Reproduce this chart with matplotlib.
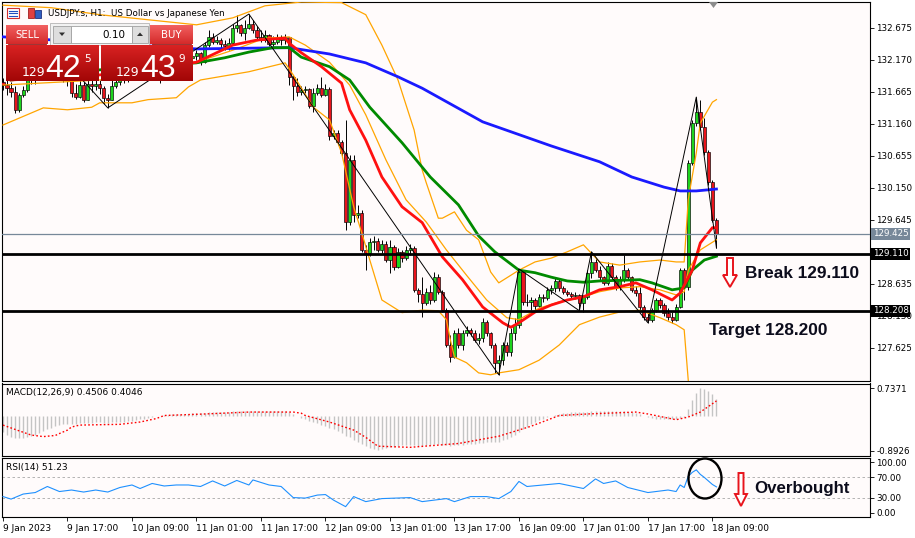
import numpy as np
import matplotlib
matplotlib.use("Agg")
import matplotlib.pyplot as plt
from matplotlib.patches import Rectangle, Polygon, Ellipse
from matplotlib.transforms import blended_transform_factory

plt.rcParams['font.family'] = ['DejaVu Sans']

# ---------------- data: USDJPY H1 candles ----------------
open0 = 131.819
close = [131.771, 131.724, 131.661, 131.377, 131.614, 131.692, 131.850, 131.913, 131.882, 131.976,
         132.008, 132.039, 131.976, 132.008, 131.945, 131.913, 131.850, 131.645, 131.582, 131.771,
         131.535, 131.787, 131.756, 131.787, 131.724, 131.566, 131.535, 131.756, 131.819, 131.882,
         131.913, 131.945, 131.976, 132.008, 131.976, 132.039, 132.008, 132.071, 132.039, 132.071,
         132.134, 132.166, 132.134, 132.197, 132.166, 132.229, 132.197, 132.229, 132.276, 132.134,
         132.402, 132.528, 132.450, 132.481, 132.418, 132.386, 132.434, 132.670, 132.718, 132.592,
         132.670, 132.733, 132.639, 132.528, 132.481, 132.560, 132.418, 132.450, 132.513, 132.481,
         132.528, 131.898, 131.756, 131.661, 131.692, 131.708, 131.440, 131.645, 131.724, 131.614,
         131.708, 130.967, 131.014, 130.872, 130.699, 129.610, 130.588, 129.721, 129.752, 129.169,
         129.121, 129.295, 129.311, 129.169, 129.263, 129.011, 129.216, 128.901, 129.137, 129.043,
         129.169, 129.200, 128.538, 128.475, 128.333, 128.506, 128.380, 128.743, 128.506, 128.222,
         127.670, 127.481, 127.860, 127.670, 127.860, 127.907, 127.860, 127.749, 127.781, 128.033,
         127.860, 127.670, 127.386, 127.434, 127.670, 127.560, 127.860, 127.986, 128.822, 128.349,
         128.349, 128.380, 128.285, 128.427, 128.412, 128.538, 128.569, 128.680, 128.569, 128.506,
         128.475, 128.443, 128.459, 128.333, 128.427, 128.806, 128.980, 128.853, 128.743, 128.648,
         128.916, 128.743, 128.585, 128.696, 128.853, 128.743, 128.538, 128.491, 128.270, 128.112,
         128.065, 128.222, 128.380, 128.301, 128.175, 128.112, 128.065, 128.270, 128.853, 128.585,
         130.541, 131.172, 131.345, 131.109, 130.715, 130.241, 129.642, 129.421]
high = [131.882, 131.850, 131.819, 131.756, 131.645, 131.756, 131.976, 132.039, 132.008, 132.087,
        132.134, 132.166, 132.103, 132.134, 132.071, 132.039, 131.976, 131.913, 131.787, 131.850,
        131.819, 131.882, 131.850, 131.882, 131.850, 131.756, 131.629, 131.850, 131.913, 132.008,
        132.039, 132.071, 132.103, 132.134, 132.103, 132.166, 132.134, 132.197, 132.166, 132.197,
        132.245, 132.292, 132.260, 132.323, 132.292, 132.355, 132.323, 132.323, 132.323, 132.292,
        132.450, 132.639, 132.592, 132.544, 132.513, 132.481, 132.513, 132.733, 132.875, 132.733,
        132.797, 132.891, 132.797, 132.702, 132.639, 132.639, 132.576, 132.544, 132.576, 132.560,
        132.576, 132.528, 131.929, 131.882, 131.756, 131.756, 131.724, 131.724, 131.787, 131.898,
        131.787, 131.740, 131.062, 131.062, 130.904, 131.219, 130.667, 130.667, 129.879, 129.800,
        129.248, 129.358, 129.390, 129.358, 129.327, 129.311, 129.327, 129.248, 129.200, 129.169,
        129.232, 129.263, 129.232, 128.569, 128.743, 128.569, 128.617, 128.822, 128.790, 128.538,
        128.254, 127.828, 127.907, 127.939, 127.907, 127.970, 127.939, 127.907, 127.860, 128.096,
        128.065, 127.875, 127.702, 127.513, 127.718, 127.718, 127.939, 128.096, 128.869, 128.853,
        128.475, 128.427, 128.412, 128.475, 128.475, 128.585, 128.617, 128.743, 128.711, 128.601,
        128.538, 128.506, 128.506, 128.475, 128.459, 128.853, 129.137, 129.043, 128.916, 128.759,
        128.980, 128.964, 128.774, 128.759, 129.090, 128.885, 128.759, 128.601, 128.585, 128.301,
        128.191, 128.254, 128.412, 128.412, 128.333, 128.254, 128.191, 128.317, 128.885, 128.885,
        130.588, 131.219, 131.582, 131.535, 131.251, 130.746, 130.273, 129.674]
low = [131.692, 131.614, 131.582, 131.330, 131.345, 131.582, 131.661, 131.787, 131.787, 131.850,
       131.913, 131.945, 131.882, 131.913, 131.850, 131.819, 131.756, 131.582, 131.551, 131.566,
       131.503, 131.535, 131.661, 131.692, 131.629, 131.472, 131.409, 131.535, 131.724, 131.771,
       131.803, 131.819, 131.850, 131.882, 131.850, 131.913, 131.850, 131.945, 131.913, 131.803,
       132.008, 132.039, 132.008, 132.071, 132.039, 132.103, 132.071, 132.134, 132.166, 132.087,
       132.118, 132.371, 132.418, 132.418, 132.355, 132.323, 132.323, 132.418, 132.607, 132.544,
       132.481, 132.655, 132.592, 132.481, 132.450, 132.450, 132.386, 132.355, 132.418, 132.402,
       132.418, 131.771, 131.535, 131.598, 131.614, 131.645, 131.409, 131.345, 131.614, 131.582,
       131.598, 130.904, 130.920, 130.825, 130.651, 129.484, 129.563, 129.610, 129.674, 129.137,
       128.853, 129.074, 129.169, 129.137, 129.121, 128.980, 128.806, 128.853, 128.885, 128.980,
       129.011, 129.090, 128.506, 128.349, 128.112, 128.301, 128.317, 128.349, 128.475, 128.191,
       127.639, 127.402, 127.465, 127.623, 127.591, 127.812, 127.812, 127.718, 127.686, 127.718,
       127.812, 127.623, 127.229, 127.197, 127.355, 127.497, 127.497, 127.749, 127.939, 128.301,
       128.285, 128.222, 128.222, 128.270, 128.349, 128.380, 128.475, 128.506, 128.522, 128.475,
       128.443, 128.412, 128.396, 128.207, 128.191, 128.396, 128.727, 128.822, 128.696, 128.617,
       128.617, 128.696, 128.538, 128.538, 128.664, 128.696, 128.506, 128.443, 128.222, 128.065,
       128.017, 128.033, 128.191, 128.254, 128.128, 128.065, 128.017, 128.049, 128.254, 128.380,
       128.538, 130.510, 131.125, 131.062, 130.667, 130.194, 129.610, 129.200]

# moving averages (bar index, price)
red_bars = [2, 24, 48, 57, 63, 70, 71, 74, 79, 84, 86, 90, 94, 99, 104, 109, 114, 119, 124, 126,
            128, 132, 136, 140, 144, 148, 153, 157, 161, 166, 168, 171, 173, 176, 177]
red_vals = [131.85, 131.93, 132.13, 132.40, 132.48, 132.51, 132.43, 132.28, 132.06, 131.80,
            131.38, 130.90, 130.32, 129.85, 129.60, 129.06, 128.70, 128.27, 128.02, 127.95,
            128.02, 128.19, 128.30, 128.38, 128.43, 128.54, 128.59, 128.65, 128.54, 128.38,
            128.49, 128.85, 129.28, 129.52, 129.52]
green_bars = [2, 24, 48, 55, 61, 67, 71, 74, 81, 86, 91, 99, 106, 113, 118, 122, 128, 132, 136, 140,
              144, 148, 158, 161, 166, 169, 171, 174, 177]
green_vals = [131.85, 132.01, 132.12, 132.20, 132.29, 132.36, 132.36, 132.21, 132.06, 131.85,
              131.42, 130.86, 130.32, 129.88, 129.39, 129.14, 128.85, 128.81, 128.74, 128.68,
              128.66, 128.68, 128.70, 128.65, 128.54, 128.57, 128.85, 129.01, 129.07]
blue_bars = [0, 48, 71, 81, 90, 98, 104, 119, 136, 148, 156, 164, 168, 172, 177]
blue_vals = [132.53, 132.34, 132.36, 132.26, 132.12, 131.90, 131.72, 131.19, 130.81, 130.56,
             130.32, 130.16, 130.10, 130.10, 130.13]

# bollinger bands
bb_up_bars = [0, 12, 24, 36, 48, 57, 65, 74, 84, 90, 94, 98, 102, 104, 105, 108, 109, 112, 115, 118,
              121, 123, 128, 132, 136, 140, 144, 148, 153, 158, 163, 167, 169, 170, 172, 173, 176, 177]
bb_up_vals = [133.03, 132.99, 132.88, 132.80, 132.72, 132.83, 133.02, 133.08, 133.07, 132.88,
              132.40, 131.85, 131.06, 130.43, 130.23, 129.67, 129.67, 129.77, 129.48, 129.33,
              128.82, 128.65, 128.85, 128.98, 129.04, 129.14, 129.25, 128.98, 128.93, 128.98,
              129.01, 128.98, 128.98, 129.96, 130.70, 131.17, 131.50, 131.54]
bb_mid_bars = [0, 24, 48, 57, 65, 71, 75, 81, 86, 90, 95, 100, 105, 110, 115, 120, 125, 128, 133, 138,
               143, 148, 153, 158, 163, 167, 169, 170, 173, 177]
bb_mid_vals = [131.77, 131.85, 132.13, 132.32, 132.51, 132.53, 132.40, 132.13, 131.77, 131.30,
               130.59, 129.96, 129.61, 129.17, 128.77, 128.38, 128.10, 128.07, 128.25, 128.35,
               128.41, 128.51, 128.57, 128.59, 128.54, 128.46, 128.51, 128.85, 129.17, 129.33]
bb_lo_bars = [0, 10, 16, 22, 24, 32, 36, 43, 46, 49, 61, 70, 72, 77, 81, 84, 87, 89, 91, 93,
              94, 99, 104, 108, 110, 111, 112, 115, 118, 121, 123, 128, 133, 138, 143, 148, 153, 158,
              163, 167, 169, 170, 171, 177]
bb_lo_vals = [131.14, 131.41, 131.38, 131.42, 131.49, 131.49, 131.54, 131.57, 131.74, 131.85,
              131.98, 132.12, 131.93, 131.42, 131.22, 130.70, 129.85, 129.44, 129.01, 128.59,
              128.38, 128.18, 128.22, 128.21, 128.07, 127.75, 127.48, 127.39, 127.23, 127.20,
              127.23, 127.28, 127.43, 127.67, 127.99, 128.11, 128.19, 128.22, 128.10, 127.99,
              127.91, 127.12, 126.49, 126.17]

# zigzag
zz_bars = [14, 26, 61, 123, 128, 143, 146, 160, 172, 177]
zz_vals = [132.25, 131.41, 132.89, 127.20, 128.87, 128.21, 129.14, 128.02, 131.58, 129.20]

# MACD(12,26,9): main (histogram, one per bar) and signal
macd_main = [-0.40, -0.50, -0.55,
             -0.57, -0.57, -0.56, -0.55, -0.52, -0.48,
             -0.43, -0.38, -0.34, -0.30, -0.26, -0.23,
             -0.21, -0.20, -0.19, -0.19, -0.18, -0.18, -0.17, -0.17, -0.16, -0.16, -0.17,
             -0.17, -0.16, -0.15, -0.15, -0.14, -0.13, -0.12, -0.10,
             -0.08, -0.06, -0.04, -0.02, 0.00, 0.02,
             0.03, 0.04, 0.05, 0.05, 0.06, 0.07, 0.07, 0.08, 0.08, 0.08,
             0.09, 0.10, 0.10, 0.11, 0.11, 0.12, 0.12, 0.13, 0.14, 0.14,
             0.15, 0.15, 0.15, 0.14, 0.14, 0.14, 0.13, 0.14, 0.14, 0.14,
             0.14, 0.10, 0.05, 0.00, -0.04,
             -0.08, -0.12, -0.15, -0.18, -0.22, -0.25,
             -0.30, -0.34, -0.38, -0.43, -0.52, -0.55, -0.62,
             -0.66, -0.72, -0.78, -0.82, -0.86, -0.87,
             -0.85, -0.82, -0.80, -0.79, -0.77, -0.76, -0.75, -0.74,
             -0.76, -0.77, -0.77, -0.76, -0.75, -0.73, -0.73, -0.74, -0.76, -0.78,
             -0.76, -0.75, -0.74, -0.73, -0.72, -0.71, -0.70, -0.69, -0.68, -0.67,
             -0.68, -0.66, -0.63, -0.59, -0.54, -0.49,
             -0.40, -0.33, -0.27, -0.21, -0.16, -0.11,
             -0.07, -0.03, 0.01, 0.04, 0.06, 0.08,
             0.09, 0.10, 0.10, 0.10, 0.11, 0.12, 0.13, 0.14, 0.14, 0.14,
             0.14, 0.14, 0.13, 0.13, 0.13, 0.12, 0.11, 0.09,
             0.06, 0.02, -0.02, -0.05, -0.06, -0.06, -0.07, -0.08, -0.08, -0.07,
             -0.04, -0.02, 0.20, 0.42, 0.62, 0.73, 0.72, 0.66, 0.57, 0.45]
sig_bars = [0, 4, 7, 10, 13, 14, 16, 17, 19, 29, 34, 38, 40, 50, 61, 72, 74, 75, 81, 87,
            90, 93, 101, 113, 123, 131, 138, 145, 157, 160, 167, 170, 173, 177]
sig_vals = [-0.23, -0.38, -0.49, -0.53, -0.50, -0.45, -0.36, -0.28, -0.23, -0.21,
            -0.15, -0.06, 0.02, 0.06, 0.11, 0.11, 0.08, 0.02, -0.15, -0.36,
            -0.55, -0.78, -0.81, -0.71, -0.52, -0.26, 0.02, 0.06, 0.11, 0.06,
            -0.09, -0.02, 0.11, 0.40]

# RSI(14)
rsi_bars = [0, 2, 5, 8, 11, 14, 17, 20, 23, 26, 29, 32, 34, 37, 40, 43, 46, 49, 52, 55,
            58, 61, 62, 66, 69, 72, 75, 78, 80, 82, 85, 87, 90, 94, 101, 104, 110, 112, 116, 120,
            123, 126, 128, 130, 138, 144, 147, 149, 152, 155, 160, 165, 167, 168, 169, 170, 171, 172,
            173, 174, 175, 176, 177]
rsi_vals = [32, 27, 37, 40, 52, 42, 45, 41, 45, 41, 50, 55, 48, 58, 53, 55, 55, 52, 63, 53,
            64, 55, 65, 55, 52, 30, 29, 35, 36, 25, 12, 32, 22, 28, 30, 22, 28, 22, 32, 32,
            28, 42, 62, 52, 58, 48, 67, 58, 63, 50, 40, 45, 42, 55, 50, 72, 80, 85,
            76, 70, 63, 56, 51.23]

time_ticks = [0, 16, 32, 48, 64, 80, 96, 112, 128, 144, 160, 176]
time_labels = ['9 Jan 2023', '9 Jan 17:00', '10 Jan 09:00', '11 Jan 01:00', '11 Jan 17:00',
               '12 Jan 09:00', '13 Jan 01:00', '13 Jan 17:00', '16 Jan 09:00', '17 Jan 01:00',
               '17 Jan 17:00', '18 Jan 09:00']
price_ticks = [132.675, 132.170, 131.665, 131.160, 130.655, 130.150, 129.645, 128.635, 128.130, 127.625]
bid, level_break, level_target = 129.425, 129.110, 128.208

# ---------------- figure ----------------
W, H = 915, 538
fig = plt.figure(figsize=(W / 100, H / 100), dpi=100, facecolor='white')

def px_axes(x0, y0, x1, y1, **kw):
    return fig.add_axes([x0 / W, 1 - y1 / H, (x1 - x0) / W, (y1 - y0) / H], **kw)

ax = px_axes(2, 2, 870, 381)
axm = px_axes(2, 383.5, 870, 456)
axr = px_axes(2, 458.3, 870, 516.7)
BG = '#fffbfb'
for a in (ax, axm, axr):
    a.set_facecolor(BG)
    a.set_xlim(-0.25, 215.1)
    for s in a.spines.values():
        s.set_linewidth(0.8)
        s.set_color('black')
    a.yaxis.tick_right()
    a.tick_params(axis='y', which='both', left=False, right=True, labelleft=False,
                  labelright=True, length=3, width=0.6, pad=1.5, labelsize=6.3)
    a.tick_params(axis='x', bottom=False, labelbottom=False)

# ---- main price panel ----
bars = np.arange(len(close))
c = np.array(close)
o = np.r_[open0, c[:-1]]
hi = np.array(high)
lo = np.array(low)
up = c >= o
ax.vlines(bars, lo, hi, color='black', lw=0.7, zorder=3)
body_lo = np.minimum(o, c)
body_h = np.maximum(np.abs(c - o), 0.004)
ax.bar(bars[up], body_h[up], bottom=body_lo[up], width=0.78, color='#1ed41e',
       edgecolor='black', lw=0.45, zorder=4)
ax.bar(bars[~up], body_h[~up], bottom=body_lo[~up], width=0.78, color='#e8141c',
       edgecolor='black', lw=0.45, zorder=4)

for bx, by in ((bb_up_bars, bb_up_vals), (bb_mid_bars, bb_mid_vals), (bb_lo_bars, bb_lo_vals)):
    ax.plot(bx, by, color='#ffa500', lw=0.9, zorder=5)
ax.plot(blue_bars, blue_vals, color='#1a1aff', lw=2.0, zorder=6)
ax.plot(green_bars, green_vals, color='#008a00', lw=2.0, zorder=6)
ax.plot(red_bars, red_vals, color='#ff1010', lw=2.0, zorder=6)
ax.plot(zz_bars, zz_vals, color='black', lw=0.7, zorder=6)

ax.axhline(bid, color='#778899', lw=0.9, zorder=7)
ax.axhline(level_break, color='black', lw=2.0, zorder=7)
ax.axhline(level_target, color='black', lw=2.0, zorder=7)

ax.set_ylim(127.102, 133.080)
ax.set_yticks(price_ticks)
ax.set_yticklabels(['%.3f' % p for p in price_ticks])
tr = blended_transform_factory(ax.transAxes, ax.transData)
for val, fc in ((bid, '#778899'), (level_break, 'black'), (level_target, 'black')):
    ax.text(1.003, val, '%.3f' % val, transform=tr, ha='left', va='center', fontsize=6.3,
            color='white', zorder=10, clip_on=False,
            bbox=dict(boxstyle='square,pad=0.18', fc=fc, ec='none'))

# ---- MACD panel ----
axm.vlines(bars, 0, macd_main, color='#c4c4c4', lw=1.0, zorder=2)
axm.plot(sig_bars, sig_vals, color='#ff0000', lw=1.0, linestyle=(0, (1.2, 1.6)), zorder=3)
axm.set_ylim(-1.036, 0.855)
axm.set_yticks([0.7371, -0.8926])
axm.set_yticklabels(['0.7371', '-0.8926'])
axm.text(0.005, 0.873, 'MACD(12,26,9) 0.4506 0.4046', transform=axm.transAxes,
         fontsize=6.5, va='center', ha='left')

# ---- RSI panel ----
axr.axhline(70, color='#a8a8a8', lw=0.6, ls=(0, (3, 3)))
axr.axhline(30, color='#a8a8a8', lw=0.6, ls=(0, (3, 3)))
axr.plot(rsi_bars, rsi_vals, color='#1e90ff', lw=0.8, zorder=3)
axr.set_ylim(-7.9, 107.9)
axr.set_yticks([100, 70, 30, 0])
axr.set_yticklabels(['100.00', '70.00', '30.00', '0.00'])
axr.text(0.005, 0.839, 'RSI(14) 51.23', transform=axr.transAxes, fontsize=6.5,
         va='center', ha='left')
axr.set_xticks(time_ticks)
axr.set_xticklabels(time_labels)
axr.tick_params(axis='x', bottom=True, labelbottom=True, length=3, width=0.6, pad=2,
                labelsize=6.5)
for lab in axr.get_xticklabels():
    lab.set_ha('left')

# ---------------- overlay (trade panel, notes) in pixel coordinates ----------------
ov = fig.add_axes([0, 0, 1, 1], zorder=30)
ov.set_xlim(0, W)
ov.set_ylim(H, 0)
ov.axis('off')
ov.patch.set_alpha(0)

def grad_box(x0, y0, x1, y1, top, bot, z=1):
    g = np.linspace(0, 1, 40)[:, None, None]
    img = np.array(matplotlib.colors.to_rgb(top))[None, None, :] * (1 - g) + \
        np.array(matplotlib.colors.to_rgb(bot))[None, None, :] * g
    ov.imshow(img, extent=(x0, x1, y1, y0), aspect='auto', zorder=z, interpolation='bilinear')

# title row
ov.add_patch(Rectangle((7, 8), 12, 10, fc='white', ec='#d03030', lw=0.8, zorder=2))
for yy in (10.5, 13, 15.5):
    ov.plot([9, 17], [yy, yy], color='#2050c0', lw=0.8, zorder=3)
ov.add_patch(Rectangle((28, 8), 6, 10, fc='#e04040', ec='#a02020', lw=0.6, zorder=2))
ov.add_patch(Rectangle((35, 10), 6, 8, fc='#3060c0', ec='#203080', lw=0.6, zorder=2))
ov.text(48, 13, 'USDJPY.s, H1:  US Dollar vs Japanese Yen', fontsize=6.3, va='center',
        ha='left', zorder=3)

# sell / buy buttons
grad_box(6, 25, 48, 44, '#f26060', '#d42a2a', z=2)
grad_box(150, 25, 193, 44, '#f26060', '#d42a2a', z=2)
ov.text(27, 34.5, 'SELL', color='white', fontsize=7.3, ha='center', va='center', zorder=4)
ov.text(171.5, 34.5, 'BUY', color='white', fontsize=7.3, ha='center', va='center', zorder=4)
ov.plot([8, 46], [43.5, 43.5], color='#8a1010', lw=0.6, zorder=4)
ov.plot([152, 191], [43.5, 43.5], color='#8a1010', lw=0.6, zorder=4)

# lot selector
ov.add_patch(Rectangle((50, 23), 99, 22, fc='#f2f2f2', ec='#b4b4b4', lw=0.6, zorder=2))
ov.add_patch(Rectangle((53, 26), 18, 17, fc='#dedede', ec='#a0a0a0', lw=0.6, zorder=3))
ov.add_patch(Rectangle((71, 26), 61, 17, fc='white', ec='#a0a0a0', lw=0.6, zorder=3))
ov.add_patch(Rectangle((132, 26), 16, 17, fc='#dedede', ec='#a0a0a0', lw=0.6, zorder=3))
ov.add_patch(Polygon([(59, 32.5), (65, 32.5), (62, 36)], fc='#303030', ec='none', zorder=4))
ov.add_patch(Polygon([(137, 36), (143, 36), (140, 32.5)], fc='#303030', ec='none', zorder=4))
ov.text(125, 34.5, '0.10', fontsize=7.5, ha='right', va='center', zorder=4)

# price boxes
grad_box(6, 45, 99, 81, '#d82222', '#a20606', z=2)
grad_box(101, 45, 193, 81, '#d82222', '#a20606', z=2)
big = ['Liberation Sans', 'DejaVu Sans']
for x129, xbig, xsup, big_txt, sup_txt in ((22, 45, 84, '42', '5'), (116, 140, 178, '43', '9')):
    ov.text(x129, 75.5, '129', color='white', fontsize=9, ha='left', va='baseline', zorder=4)
    ov.text(xbig, 77, big_txt, color='white', fontsize=23, ha='left', va='baseline',
            family=big, zorder=4)
    ov.text(xsup, 59, sup_txt, color='white', fontsize=7.5, ha='left', va='center', zorder=4)

# chart shift marker
ov.add_patch(Polygon([(709, 2), (718, 2), (713.5, 8)], fc='#8c8c8c', ec='none', zorder=4))

# annotations
note_font = ['Liberation Sans', 'DejaVu Sans']
ov.text(745, 273, 'Break 129.110', fontsize=12.4, fontweight='bold', family=note_font,
        color='#0c0c1c', ha='left', va='center', zorder=5)
ov.text(709, 331, 'Target 128.200', fontsize=12.4, fontweight='bold', family=note_font,
        color='#0c0c1c', ha='left', va='center', zorder=5)
ov.text(754, 488, 'Overbought', fontsize=12.2, fontweight='bold', family=note_font,
        color='#0c0c1c', ha='left', va='center', zorder=5)
ov.add_patch(Polygon([(727, 258), (733, 258), (733, 275), (737, 275), (730, 287), (723, 275),
                      (727, 275)], fc='white', ec='#e8141c', lw=1.4, zorder=5))
ov.add_patch(Polygon([(738.5, 473), (743.5, 473), (743.5, 494), (747, 494), (741, 506), (735, 494),
                      (738.5, 494)], fc='white', ec='#e8141c', lw=1.4, zorder=5))
ov.add_patch(Ellipse((705, 478.5), 33, 40, fc='none', ec='black', lw=1.7, zorder=5))

fig.savefig('out.png', dpi=100, facecolor='white')
